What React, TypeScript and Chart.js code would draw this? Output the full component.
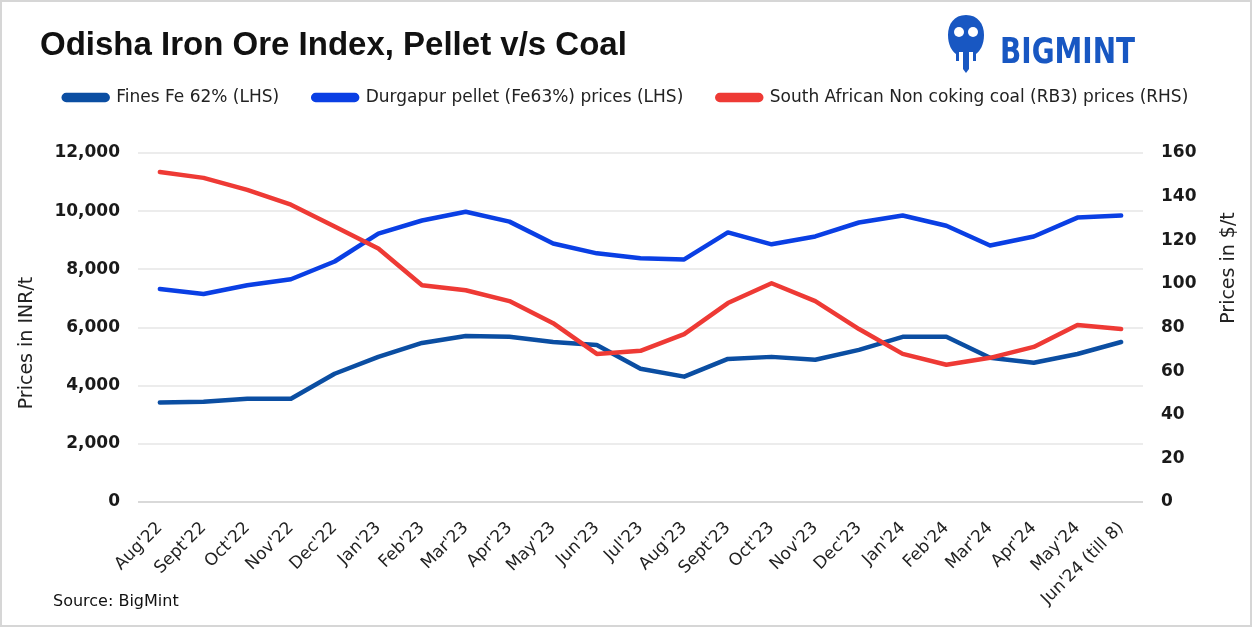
import React, { useEffect, useRef } from "react";
import { Chart, registerables } from "chart.js";

Chart.register(...registerables);

// ---- data ----
const categories = [
  "Aug'22", "Sept'22", "Oct'22", "Nov'22", "Dec'22", "Jan'23", "Feb'23", "Mar'23",
  "Apr'23", "May'23", "Jun'23", "Jul'23", "Aug'23", "Sept'23", "Oct'23", "Nov'23",
  "Dec'23", "Jan'24", "Feb'24", "Mar'24", "Apr'24", "May'24", "Jun'24 (till 8)",
];
const finesFe62 = [
  3420, 3450, 3550, 3550, 4410, 4990, 5470, 5710, 5680, 5500, 5400, 4580,
  4310, 4920, 4990, 4890, 5230, 5680, 5680, 4960, 4790, 5090, 5500,
];
const durgapurPellet = [
  7320, 7150, 7450, 7660, 8270, 9230, 9680, 9980, 9640, 8890, 8550, 8380,
  8340, 9270, 8860, 9130, 9610, 9850, 9500, 8820, 9130, 9780, 9850,
];
const saCoalRB3 = [
  151.3, 148.6, 143.1, 136.3, 126.3, 116.2, 99.4, 97.1, 92.1, 82.0, 67.9, 69.3,
  77.0, 91.2, 100.3, 92.1, 79.3, 67.9, 62.9, 66.1, 71.1, 81.1, 79.3,
];
const seriesLabels = [
  "Fines Fe 62% (LHS)",
  "Durgapur pellet (Fe63%) prices (LHS)",
  "South African Non coking coal (RB3) prices (RHS)",
];
const leftAxisRange = [0, 12000, 2000]; // min, max, step
const rightAxisRange = [0, 160, 20]; // min, max, step
const leftAxisTitle = "Prices in INR/t";
const rightAxisTitle = "Prices in $/t";

const COLORS = ["#0b4ea2", "#0a3fe4", "#ee3a35"];

const axisTitlePlugin = {
  id: "axisTitlePlugin",
  afterDraw(chart: any) {
    const { ctx, chartArea } = chart;
    ctx.save();
    ctx.font = '19px "DejaVu Sans"';
    ctx.fillStyle = "#222222";
    ctx.textAlign = "center";
    ctx.textBaseline = "middle";
    // left title
    ctx.save();
    ctx.translate(chartArea.left - 111, chartArea.top + 190);
    ctx.rotate(-Math.PI / 2);
    ctx.fillText(leftAxisTitle, 0, 0);
    ctx.restore();
    // right title (reads bottom to top like the reference)
    ctx.save();
    ctx.translate(chartArea.right + 86, chartArea.top + 115);
    ctx.rotate(-Math.PI / 2);
    ctx.fillText(rightAxisTitle, 0, 0);
    ctx.restore();
    ctx.restore();
  },
};

const legendSpacingPlugin = {
  id: "legendSpacingPlugin",
  beforeInit(chart: any) {
    const legend = chart.legend;
    if (!legend) return;
    const origFit = legend.fit;
    legend.fit = function fit() {
      origFit.bind(legend)();
      this.height += 37;
    };
  },
};

function App() {
  const canvasRef = useRef<HTMLCanvasElement | null>(null);

  useEffect(() => {
    document.body.style.margin = "0";
    const canvas = canvasRef.current;
    if (!canvas) return;
    const datasets = [finesFe62, durgapurPellet, saCoalRB3].map((values, i) => ({
      label: seriesLabels[i],
      data: values,
      borderColor: COLORS[i],
      backgroundColor: COLORS[i],
      borderWidth: 4.5,
      borderCapStyle: "round" as const,
      borderJoinStyle: "round" as const,
      pointRadius: 0,
      pointHoverRadius: 0,
      tension: 0,
      yAxisID: i === 2 ? "y1" : "y",
      order: 3 - i,
    }));

    const chart = new Chart(canvas, {
      type: "line",
      data: { labels: categories, datasets },
      options: {
        responsive: false,
        animation: false,
        devicePixelRatio: 1,
        layout: { padding: { top: 55, left: 10, right: 10, bottom: 0 } },
        plugins: {
          legend: {
            position: "top",
            labels: {
              boxWidth: 44,
              boxHeight: 5,
              useBorderRadius: true,
              borderRadius: 2.5,
              padding: 34,
              color: "#222222",
              font: { family: "DejaVu Sans", size: 17 },
              sort: (a: any, b: any) => a.datasetIndex - b.datasetIndex,
            },
          },
          tooltip: { enabled: false },
          title: { display: false },
        },
        scales: {
          x: {
            type: "category",
            offset: true,
            grid: { display: false, drawTicks: false },
            border: { display: false },
            ticks: {
              minRotation: 45,
              maxRotation: 45,
              autoSkip: false,
              padding: 16,
              color: "#222222",
              font: { family: "DejaVu Sans", size: 17 },
            },
            afterFit: (scale: any) => {
              scale.height = 125;
            },
          },
          y: {
            position: "left",
            min: leftAxisRange[0],
            max: leftAxisRange[1],
            grid: {
              drawTicks: false,
              lineWidth: 2,
              color: (c: any) => (c.tick && c.tick.value === 0 ? "#d9d9d9" : "#ececec"),
            },
            border: { display: false },
            ticks: {
              stepSize: leftAxisRange[2],
              padding: 18,
              color: "#1a1a1a",
              font: { family: "DejaVu Sans", size: 17, weight: "bold" },
              callback: (v: any) => Number(v).toLocaleString("en-US"),
            },
            afterFit: (scale: any) => {
              scale.width = 128;
            },
          },
          y1: {
            position: "right",
            min: rightAxisRange[0],
            max: rightAxisRange[1],
            grid: { display: false, drawTicks: false },
            border: { display: false },
            ticks: {
              stepSize: rightAxisRange[2],
              padding: 18,
              color: "#1a1a1a",
              font: { family: "DejaVu Sans", size: 17, weight: "bold" },
            },
            afterFit: (scale: any) => {
              scale.width = 99;
            },
          },
        },
      },
      plugins: [legendSpacingPlugin, axisTitlePlugin],
    });
    return () => chart.destroy();
  }, []);

  return (
    <div
      style={{
        position: "relative",
        width: 1252,
        height: 627,
        background: "#ffffff",
        overflow: "hidden",
      }}
    >
      <canvas
        ref={canvasRef}
        width={1252}
        height={627}
        style={{ position: "absolute", left: 0, top: 0, width: 1252, height: 627 }}
      />
      <div
        style={{
          position: "absolute",
          left: 40,
          top: 28,
          fontFamily: '"Liberation Sans", Arial, sans-serif',
          fontWeight: 700,
          fontSize: 33,
          lineHeight: "32px",
          color: "#111111",
          whiteSpace: "nowrap",
        }}
      >
        Odisha Iron Ore Index, Pellet v/s Coal
      </div>
      <svg
        width={200}
        height={62}
        viewBox="0 0 200 62"
        style={{ position: "absolute", left: 945, top: 13 }}
      >
        <path
          d="M21 2 C9 2 3 11 3 22 C3 32 7 38 11 41 L11 48 L14 48 L14 39 L18 39 L18 56 L21 60 L24 56 L24 39 L28 39 L28 48 L31 48 L31 41 C35 38 39 32 39 22 C39 11 33 2 21 2 Z"
          fill="#1857c2"
        />
        <circle cx="14" cy="19" r="5" fill="#ffffff" />
        <circle cx="28" cy="19" r="5" fill="#ffffff" />
        <rect x="19" y="14" width="4" height="22" fill="#1857c2" />
        <text
          x="55"
          y="50"
          fontFamily='"DejaVu Sans", sans-serif'
          fontWeight="700"
          fontSize="36"
          fill="#1857c2"
          textLength="135"
          lengthAdjust="spacingAndGlyphs"
        >
          BIGMINT
        </text>
      </svg>
      <div
        style={{
          position: "absolute",
          left: 53,
          top: 593,
          fontFamily: '"DejaVu Sans", sans-serif',
          fontSize: 16,
          lineHeight: "16px",
          color: "#111111",
          whiteSpace: "nowrap",
        }}
      >
        Source: BigMint
      </div>
      <div
        style={{
          position: "absolute",
          left: 0,
          top: 0,
          width: 1252,
          height: 627,
          boxSizing: "border-box",
          border: "2px solid #d6d6d6",
          pointerEvents: "none",
        }}
      />
    </div>
  );
}

export default App;
